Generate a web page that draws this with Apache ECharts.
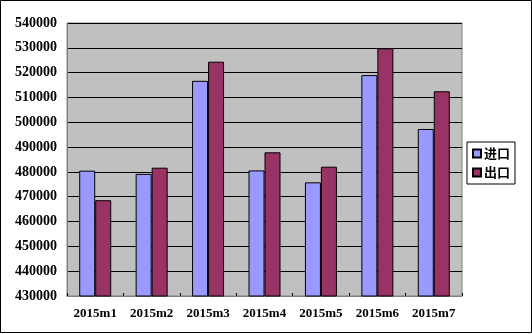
<!DOCTYPE html>
<html><head><meta charset="utf-8">
<script src="https://cdn.jsdelivr.net/npm/echarts@6/dist/echarts.min.js"></script>
<style>html,body{margin:0;padding:0;background:#fff}#c{width:532px;height:334px}</style>
</head><body><div id="c"></div>
<script>
const categories = ['2015m1','2015m2','2015m3','2015m4','2015m5','2015m6','2015m7'];
const importVals = [480500, 479200, 516700, 480600, 475800, 519000, 497300];
const exportVals = [468600, 481700, 524400, 487900, 482100, 529800, 512500];
const seriesNames = ['进口','出口'];
const yMin = 430000, yMax = 540000, yStep = 10000;

const chart = echarts.init(document.getElementById('c'));
const font = '"Liberation Serif", "Times New Roman", serif';
chart.setOption({
  animation: false,
  backgroundColor: '#fff',
  graphic: [{type:'rect', shape:{x:0.5,y:0.5,width:531,height:332}, style:{fill:'none', stroke:'#000', lineWidth:1}, z:-1}],
  grid: {left: 67, top: 23, width: 395, height: 273, show: true, backgroundColor: '#C0C0C0', borderColor: '#808080', borderWidth: 1},
  legend: {
    data: seriesNames, orient: 'vertical', left: 467, top: 142,
    itemWidth: 8, itemHeight: 8, itemGap: 6, padding: [5, 5, 5, 5],
    borderColor: '#000', borderWidth: 1, backgroundColor: '#fff', borderRadius: 0,
    icon: 'rect',
    textStyle: {fontFamily: '"Noto Sans CJK SC", sans-serif', fontWeight: 'bold', fontSize: 13, color: '#000', padding: [0,0,0,-2]}
  },
  xAxis: {
    type: 'category', data: categories,
    axisLine: {lineStyle: {color: '#808080'}},
    axisTick: {show: true, inside: true, length: 3, lineStyle: {color: '#000'}},
    axisLabel: {fontFamily: font, fontWeight: 'bold', fontSize: 13, color: '#000', margin: 11}
  },
  yAxis: {
    type: 'value', min: yMin, max: yMax, interval: yStep,
    axisLine: {show: true, lineStyle: {color: '#808080'}},
    axisTick: {show: false},
    splitLine: {lineStyle: {color: '#000', width: 1}},
    axisLabel: {fontFamily: font, fontWeight: 'bold', fontSize: 14, color: '#000', margin: 10,
      formatter: v => String(v)}
  },
  series: [
    {name: seriesNames[0], type: 'bar', data: importVals, barWidth: 16, barGap: '0%',
     itemStyle: {color: '#9999FF', borderColor: '#000', borderWidth: 1}},
    {name: seriesNames[1], type: 'bar', data: exportVals, barWidth: 16, barGap: '0%',
     itemStyle: {color: '#993366', borderColor: '#000', borderWidth: 1}}
  ]
});
</script></body></html>
